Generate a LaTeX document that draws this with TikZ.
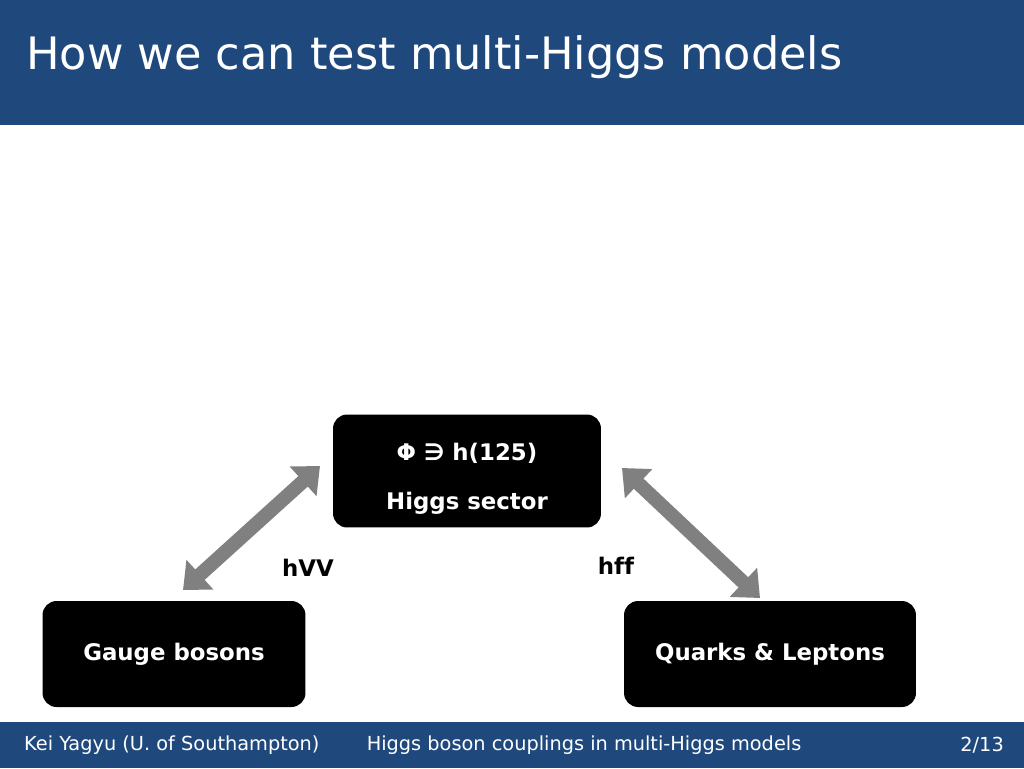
\documentclass[tikz,border=0pt]{standalone}
\usepackage{fontspec}
\setmainfont[Ligatures=NoCommon]{DejaVu Sans}
\usetikzlibrary{arrows.meta}
\definecolor{slideblue}{RGB}{31,73,125}
\definecolor{arrowgray}{RGB}{128,128,128}
\begin{document}
\begin{tikzpicture}[x=0.02cm,y=-0.02cm]
        \tikzstyle{sector}=[draw=none,fill=black,rounded corners=8pt,text=white,font=\bfseries\fontsize{13}{28}\selectfont,align=center]
        \tikzstyle{coupling}=[draw=arrowgray,line width=8pt,{Triangle[length=13pt,width=22pt]}-{Triangle[length=13pt,width=22pt]}]
        \tikzstyle{foot}=[text=white,font=\fontsize{11}{13}\selectfont]
       \useasboundingbox (0,0) rectangle (1024,768);
       \fill[slideblue] (0,0) rectangle (1024,125);
       \fill[slideblue] (0,722) rectangle (1024,768);
       \node[anchor=west,text=white,font=\fontsize{25.4}{30}\selectfont] (title) at (20,57) {How we can test multi-Higgs models};
       \begin{scope}
         \node [sector,minimum width=5.36cm,minimum height=2.26cm] (higgs) at (467,471) {};
         \node [sector,fill=none] (higgstext) at ([yshift=-0.16cm]higgs.center) {Φ ∋ h(125)\\Higgs sector};
         \node [sector,minimum width=5.26cm,minimum height=2.12cm] (gauge) at (174,654) {Gauge bosons};
         \node [sector,minimum width=5.84cm,minimum height=2.12cm] (quarks) at (770,654) {Quarks \& Leptons};
         \coordinate (g1) at (183,590);
         \coordinate (g2) at (320,466);
         \coordinate (q1) at (622,468);
         \coordinate (q2) at (760,598);
         \draw[coupling] (g1) -- (g2);
         \draw[coupling] (q1) -- (q2);
         \node[font=\bfseries\fontsize{13}{16}\selectfont] (hvv) at (308,568) {hVV};
         \node[font=\bfseries\fontsize{13}{16}\selectfont] (hff) at (616,566) {hff};
        \end{scope}
       \node[foot,anchor=west] (author) at (18,745) {Kei Yagyu (U. of Southampton)};
       \node[foot] (talk) at (584,745) {Higgs boson couplings in multi-Higgs models};
       \node[foot,anchor=east] (page) at (1010,745) {2/13};
      \end{tikzpicture}
\end{document}
